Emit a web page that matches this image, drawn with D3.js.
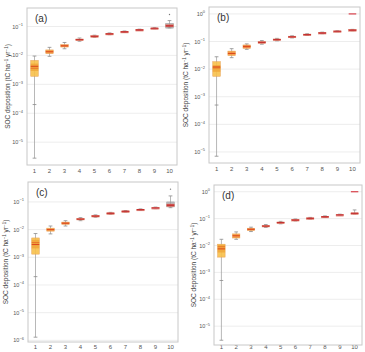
<!DOCTYPE html>
<html>
<head>
<meta charset="utf-8">
<title>SOC deposition</title>
<style>
  body { margin: 0; background: #fff; }
  text { font-family: "Liberation Sans", Arial, sans-serif; }
</style>
</head>
<body>
<script src="https://d3js.org/d3.v7.min.js"></script>
<script>

// categories on the x axis
var cats = [1, 2, 3, 4, 5, 6, 7, 8, 9, 10];

// panel (a)
var aMed = [4.2e-3, 0.0134, 0.0215, 0.035, 0.046, 0.056, 0.066, 0.077, 0.087, 0.105];
var aQ1  = [1.9e-3, 0.0115, 0.0195, 0.033, 0.044, 0.054, 0.064, 0.075, 0.085, 0.097];
var aQ3  = [6.7e-3, 0.0155, 0.0237, 0.037, 0.048, 0.058, 0.068, 0.079, 0.089, 0.115];
var aLo  = [2.8e-6, 0.0093, 0.017, 0.031, 0.042, 0.052, 0.062, 0.073, 0.083, 0.090];
var aHi  = [9.5e-3, 0.019, 0.028, 0.040, 0.050, 0.060, 0.070, 0.081, 0.091, 0.16];
var aInner = [2.9e-3, 3.6e-3, 5.2e-3, 2e-4];      // q1, med, q3, low cap of layered box at 1
var aBack = [0.088, 0.128];                        // grey box behind 10
var aOut = [[10, 0.26]];
var aFlat = [];

// panel (b)
var bMed = [0.012, 0.037, 0.066, 0.093, 0.117, 0.148, 0.178, 0.205, 0.235, 0.26];
var bQ1  = [5.5e-3, 0.031, 0.057, 0.085, 0.110, 0.140, 0.170, 0.197, 0.228, 0.25];
var bQ3  = [0.0185, 0.045, 0.075, 0.101, 0.124, 0.156, 0.186, 0.213, 0.242, 0.27];
var bLo  = [7e-6, 0.026, 0.052, 0.080, 0.106, 0.135, 0.165, 0.192, 0.225, 0.245];
var bHi  = [0.028, 0.055, 0.082, 0.108, 0.130, 0.161, 0.191, 0.218, 0.245, 0.275];
var bInner = [8e-3, 0.011, 0.014, 5e-4];
var bBack = null;
var bOut = [];
var bFlat = [[10, 1.0]];

// panel (c)
var cMed = [2.9e-3, 0.010, 0.017, 0.024, 0.031, 0.039, 0.046, 0.053, 0.061, 0.076];
var cQ1  = [1.3e-3, 0.0088, 0.0155, 0.0225, 0.0295, 0.0375, 0.0445, 0.0515, 0.059, 0.068];
var cQ3  = [5.0e-3, 0.0113, 0.0187, 0.0255, 0.0325, 0.0405, 0.0475, 0.0545, 0.063, 0.084];
var cLo  = [1.3e-6, 0.007, 0.0135, 0.021, 0.028, 0.036, 0.043, 0.050, 0.057, 0.062];
var cHi  = [7.2e-3, 0.0135, 0.021, 0.027, 0.034, 0.042, 0.049, 0.056, 0.065, 0.165];
var cInner = [2.1e-3, 3.4e-3, 4.3e-3, 2e-4];
var cBack = [0.066, 0.10];
var cOut = [[10, 0.29]];
var cFlat = [];

// panel (d)
var dMed = [7.5e-3, 0.023, 0.040, 0.053, 0.071, 0.089, 0.103, 0.118, 0.138, 0.158];
var dQ1  = [3.7e-3, 0.019, 0.036, 0.050, 0.067, 0.085, 0.099, 0.114, 0.134, 0.152];
var dQ3  = [0.0112, 0.027, 0.044, 0.056, 0.075, 0.093, 0.107, 0.122, 0.142, 0.164];
var dLo  = [3e-6, 0.017, 0.033, 0.047, 0.064, 0.082, 0.096, 0.111, 0.131, 0.148];
var dHi  = [0.017, 0.032, 0.048, 0.060, 0.079, 0.097, 0.111, 0.126, 0.146, 0.21];
var dInner = [5.5e-3, 0.009, 0.0105, 5e-4];
var dBack = null;
var dOut = [];
var dFlat = [[10, 1.0]];

var fills = ["#f7c04a", "#f59a3c", "#f0823a", "#e25c3c", "#dc4c3e", "#d84644", "#d44448", "#d0444c", "#e07080", "#d6454a"];

var panels = [
  {lab: "(a)", left: 27, right: 177, top: 8, bottom: 165, ymin: -5.79, ymax: -0.36, decs: [-5, -4, -3, -2, -1],
   med: aMed, q1: aQ1, q3: aQ3, lo: aLo, hi: aHi, inner: aInner, back: aBack, out: aOut, flat: aFlat, ylab: 10},
  {lab: "(b)", left: 209, right: 360, top: 7, bottom: 163, ymin: -5.4, ymax: 0.25, decs: [-5, -4, -3, -2, -1, 0],
   med: bMed, q1: bQ1, q3: bQ3, lo: bLo, hi: bHi, inner: bInner, back: bBack, out: bOut, flat: bFlat, ylab: 188},
  {lab: "(c)", left: 28, right: 178, top: 182, bottom: 342, ymin: -6.06, ymax: -0.28, decs: [-6, -5, -4, -3, -2, -1],
   med: cMed, q1: cQ1, q3: cQ3, lo: cLo, hi: cHi, inner: cInner, back: cBack, out: cOut, flat: cFlat, ylab: 8},
  {lab: "(d)", left: 214, right: 362, top: 185, bottom: 345, ymin: -5.7, ymax: 0.25, decs: [-5, -4, -3, -2, -1, 0],
   med: dMed, q1: dQ1, q3: dQ3, lo: dLo, hi: dHi, inner: dInner, back: dBack, out: dOut, flat: dFlat, ylab: 196}
];

var svg = d3.select("body").append("svg")
    .attr("width", 365)
    .attr("height", 352);

panels.forEach(function(p) {
  var x = d3.scaleLinear().domain([0.5, 10.5]).range([p.left, p.right]);
  var y = d3.scaleLog().domain([Math.pow(10, p.ymin), Math.pow(10, p.ymax)]).range([p.bottom, p.top]);
  var bw = (x(1.25) - x(0.75));
  var cw = bw / 2;
  var g = svg.append("g");

  // grid
  g.selectAll(".grid").data(p.decs).enter().append("line")
      .attr("x1", p.left).attr("x2", p.right)
      .attr("y1", function(d) { return y(Math.pow(10, d)); })
      .attr("y2", function(d) { return y(Math.pow(10, d)); })
      .attr("stroke", "#e9e9e9").attr("stroke-width", 0.8);

  // y tick labels
  var yt = g.selectAll(".yt").data(p.decs).enter().append("text")
      .attr("x", p.left - 4)
      .attr("y", function(d) { return y(Math.pow(10, d)) + 2; })
      .attr("text-anchor", "end")
      .attr("font-size", 5.5)
      .attr("fill", "#555");
  yt.append("tspan").text("10");
  yt.append("tspan").attr("dy", -2.5).attr("font-size", 4).text(function(d) { return d === 0 ? "0" : "\u2212" + (-d); });

  // x tick labels (kept inside the picture)
  g.selectAll(".xt").data(cats).enter().append("text")
      .attr("x", function(d) { return x(d); })
      .attr("y", Math.min(p.bottom + 8, 349))
      .attr("text-anchor", "middle")
      .attr("font-size", 6)
      .attr("fill", "#555")
      .text(function(d) { return d; });

  // y axis title
  var t = g.append("text")
      .attr("transform", "translate(" + p.ylab + "," + ((p.top + p.bottom) / 2) + ") rotate(-90)")
      .attr("text-anchor", "middle")
      .attr("font-size", 6.5)
      .attr("fill", "#444");
  t.append("tspan").text("SOC deposition (tC ha");
  t.append("tspan").attr("dy", -2.5).attr("font-size", 4.5).text("\u22121");
  t.append("tspan").attr("dy", 2.5).text(" yr");
  t.append("tspan").attr("dy", -2.5).attr("font-size", 4.5).text("\u22121");
  t.append("tspan").attr("dy", 2.5).text(")");

  // grey back box at 10
  if (p.back) {
    g.append("rect")
        .attr("x", x(10) - bw / 2).attr("width", bw)
        .attr("y", y(p.back[1])).attr("height", y(p.back[0]) - y(p.back[1]))
        .attr("fill", "#b9b9bf").attr("stroke", "#999").attr("stroke-width", 0.5);
  }

  // whiskers
  var wk = g.selectAll(".wk").data(cats).enter().append("g");
  wk.append("line")
      .attr("x1", function(d) { return x(d); }).attr("x2", function(d) { return x(d); })
      .attr("y1", function(d, i) { return y(p.lo[i]); })
      .attr("y2", function(d, i) { return y(p.hi[i]); })
      .attr("stroke", "#9a9a9a").attr("stroke-width", 0.7);
  wk.append("line")
      .attr("x1", function(d) { return x(d) - cw / 2; }).attr("x2", function(d) { return x(d) + cw / 2; })
      .attr("y1", function(d, i) { return y(p.lo[i]); })
      .attr("y2", function(d, i) { return y(p.lo[i]); })
      .attr("stroke", "#8a8a8a").attr("stroke-width", 0.8);
  wk.append("line")
      .attr("x1", function(d) { return x(d) - cw / 2; }).attr("x2", function(d) { return x(d) + cw / 2; })
      .attr("y1", function(d, i) { return y(p.hi[i]); })
      .attr("y2", function(d, i) { return y(p.hi[i]); })
      .attr("stroke", "#8a8a8a").attr("stroke-width", 0.8);

  // extra low cap of the layered box at 1
  g.append("line")
      .attr("x1", x(1) - cw / 2).attr("x2", x(1) + cw / 2)
      .attr("y1", y(p.inner[3])).attr("y2", y(p.inner[3]))
      .attr("stroke", "#8a8a8a").attr("stroke-width", 0.8);

  // boxes
  g.selectAll(".bx").data(cats).enter().append("rect")
      .attr("x", function(d) { return x(d) - bw / 2; })
      .attr("width", bw)
      .attr("y", function(d, i) { return y(p.q3[i]); })
      .attr("height", function(d, i) { return Math.max(1.6, y(p.q1[i]) - y(p.q3[i])); })
      .attr("fill", function(d, i) { return fills[i]; })
      .attr("fill-opacity", 0.9)
      .attr("stroke", function(d, i) { return i < 3 ? "#e8a050" : "#e08a70"; })
      .attr("stroke-width", 0.5);

  // layered inner box at 1
  g.append("rect")
      .attr("x", x(1) - bw / 2).attr("width", bw)
      .attr("y", y(p.inner[2])).attr("height", y(p.inner[0]) - y(p.inner[2]))
      .attr("fill", "#f0a63a").attr("fill-opacity", 0.85);
  g.append("line")
      .attr("x1", x(1) - bw / 2).attr("x2", x(1) + bw / 2)
      .attr("y1", y(p.inner[1])).attr("y2", y(p.inner[1]))
      .attr("stroke", "#e8742a").attr("stroke-width", 1);

  // medians
  g.selectAll(".md").data(cats).enter().append("line")
      .attr("x1", function(d) { return x(d) - bw / 2; })
      .attr("x2", function(d) { return x(d) + bw / 2; })
      .attr("y1", function(d, i) { return y(p.med[i]); })
      .attr("y2", function(d, i) { return y(p.med[i]); })
      .attr("stroke", function(d, i) { return i < 3 ? "#dd4a1e" : "#c23030"; })
      .attr("stroke-width", 1.1);

  // flat boxes (single value)
  g.selectAll(".fl").data(p.flat).enter().append("line")
      .attr("x1", function(d) { return x(d[0]) - bw / 2; })
      .attr("x2", function(d) { return x(d[0]) + bw / 2; })
      .attr("y1", function(d) { return y(d[1]); })
      .attr("y2", function(d) { return y(d[1]); })
      .attr("stroke", "#d8404a").attr("stroke-width", 1.2);

  // outliers
  g.selectAll(".ot").data(p.out).enter().append("circle")
      .attr("cx", function(d) { return x(d[0]); })
      .attr("cy", function(d) { return y(d[1]); })
      .attr("r", 0.7)
      .attr("fill", "#777");

  // frame
  g.append("rect")
      .attr("x", p.left).attr("y", p.top)
      .attr("width", p.right - p.left).attr("height", p.bottom - p.top)
      .attr("fill", "none").attr("stroke", "#c8c8c8").attr("stroke-width", 1);

  // panel letter
  g.append("text")
      .attr("x", p.left + 8).attr("y", p.top + 13.5)
      .attr("font-size", 10)
      .attr("fill", "#333")
      .text(p.lab);
});

</script>
</body>
</html>
